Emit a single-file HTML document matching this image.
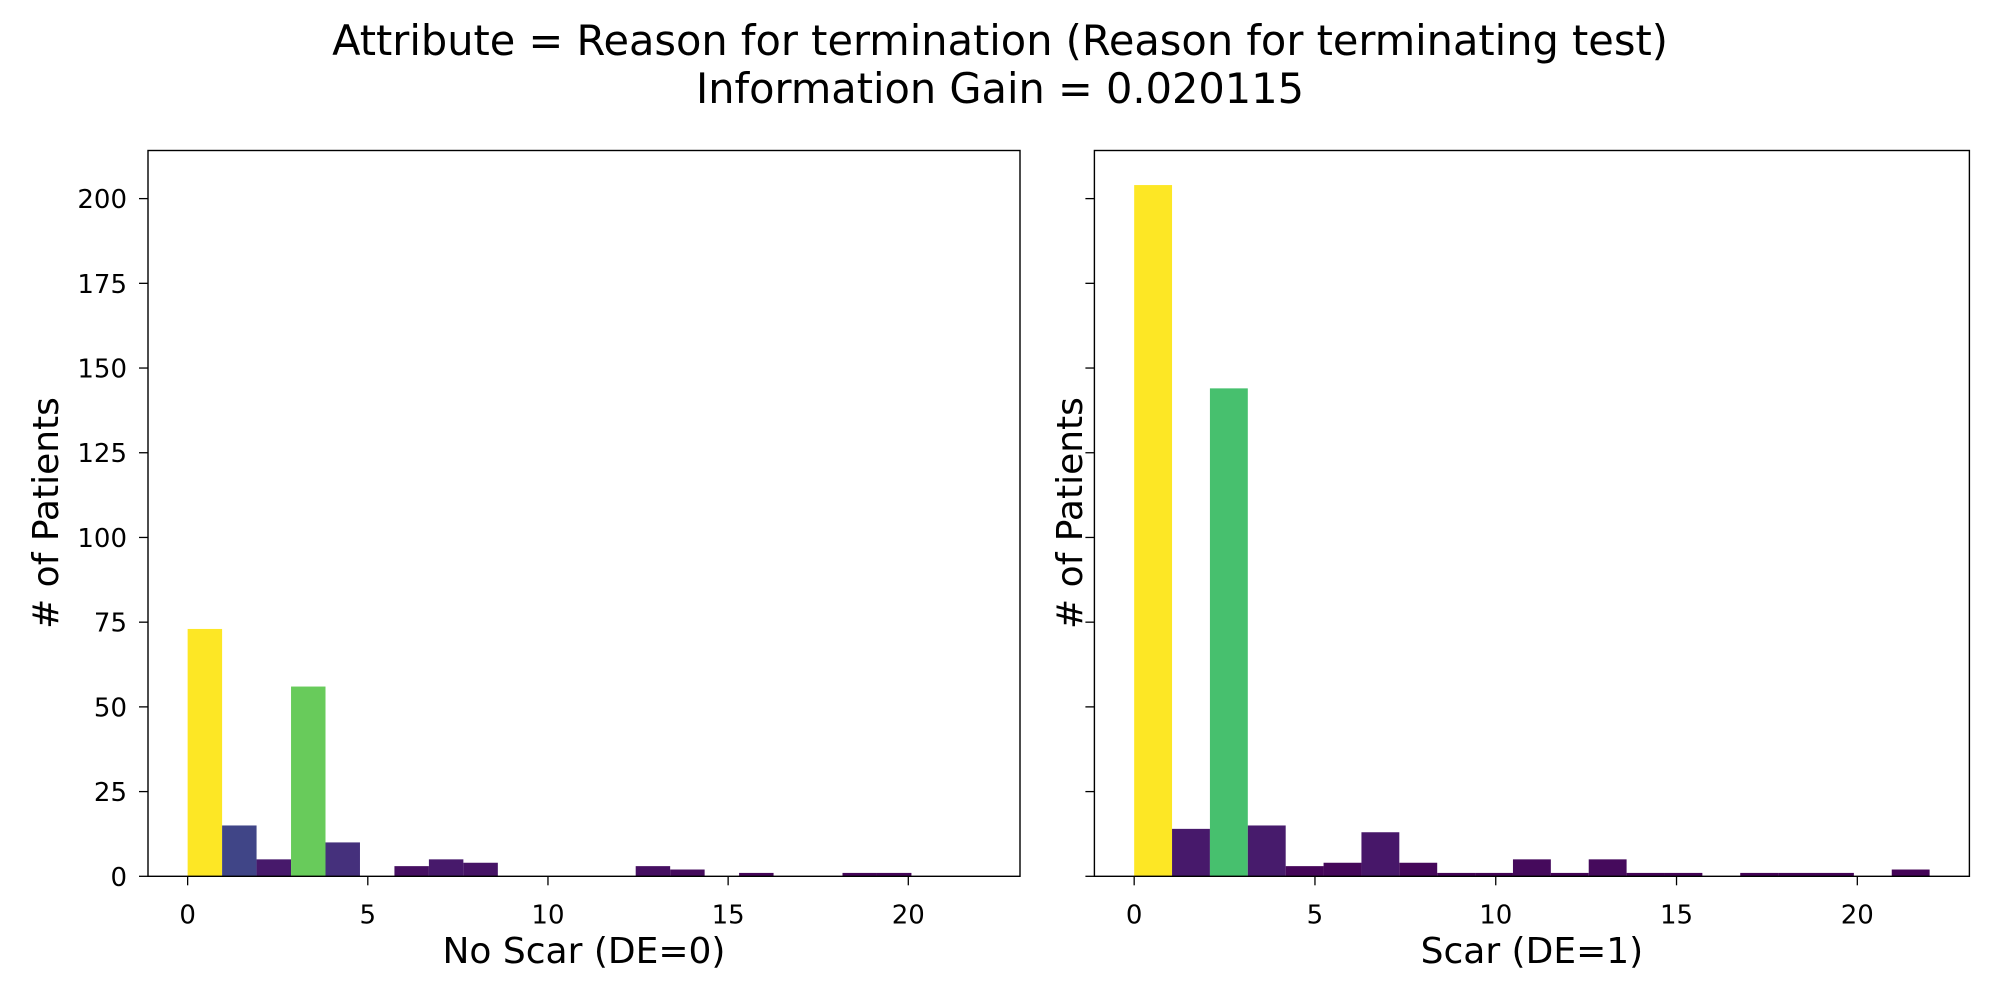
<!DOCTYPE html>
<html><head><meta charset="utf-8"><style>
html,body{margin:0;padding:0;background:#fff;}
svg{display:block;font-family:"DejaVu Sans","Liberation Sans",sans-serif;}
</style></head><body>
<svg id="chart" width="2000" height="1000" viewBox="0 0 2000 1000">
<text x="1000" y="55" text-anchor="middle" font-size="41.5">Attribute = Reason for termination (Reason for terminating test)</text>
<text x="1000" y="103" text-anchor="middle" font-size="41.5">Information Gain = 0.020115</text>
</svg>
<script>
const leftCounts = [73,15,5,56,10,0,3,5,4,0,0,0,0,3,2,0,1,0,0,1,1,0,0];
const rightCounts = [204,14,144,15,3,4,13,4,1,1,5,1,5,1,1,0,1,1,1,0,2];
const dataMin = 0, dataMax = 22;
const xTicks = [0,5,10,15,20];
const yTicks = [0,25,50,75,100,125,150,175,200];
const xLabels = ["No Scar (DE=0)","Scar (DE=1)"];

const NS="http://www.w3.org/2000/svg";
const svg=document.getElementById('chart');
const vir=["#440154","#482475","#414487","#355f8d","#2a788e","#21918c","#22a884","#44bf70","#7ad151","#bddf26","#fde725"];
function hex(c){return [1,3,5].map(i=>parseInt(c.substr(i,2),16));}
function viridis(t){t=Math.max(0,Math.min(1,t));const p=t*10,i=Math.min(9,Math.floor(p)),f=p-i;
 const a=hex(vir[i]),b=hex(vir[i+1]);return 'rgb('+a.map((v,k)=>Math.round(v+(b[k]-v)*f)).join(',')+')';}
function mk(tag,attrs,parent){const e=document.createElementNS(NS,tag);for(const k in attrs)e.setAttribute(k,attrs[k]);(parent||svg).appendChild(e);return e;}

const yMax=214.2, xLo=-1.1, xHi=23.1;
function panel(px0,px1,counts,label,showYLabels,idx){
 const top=150.5,bottom=876.3;
 const g=mk('g',{});
 
 
 const xs=v=>px0+(v-xLo)/(xHi-xLo)*(px1-px0);
 const ys=v=>bottom-v/yMax*(bottom-top);
 const n=counts.length, w=(dataMax-dataMin)/n, mx=Math.max(...counts);
 counts.forEach((c,i)=>{ if(c<=0) return;
  const r=mk('rect',{x:xs(dataMin+i*w),y:ys(c),width:xs(dataMin+(i+1)*w)-xs(dataMin+i*w),height:ys(0)-ys(c),fill:viridis(c/mx)},g);
  
  
 });
 const fr=mk('rect',{x:px0,y:top,width:px1-px0,height:bottom-top,fill:'none',stroke:'#000','stroke-width':1.4},g);
 
 
 xTicks.forEach(t=>{const x=xs(t);mk('line',{x1:x,x2:x,y1:bottom,y2:bottom+9,stroke:'#000','stroke-width':1.3},g);
  const tx=mk('text',{x:x,y:bottom+47,'text-anchor':'middle','font-size':26},g);tx.textContent=t;
  
  });
 yTicks.forEach(t=>{const y=ys(t);mk('line',{x1:px0-9,x2:px0,y1:y,y2:y,stroke:'#000','stroke-width':1.3},g);
  if(showYLabels){const tx=mk('text',{x:px0-21,y:y+9.5,'text-anchor':'end','font-size':26},g);tx.textContent=t;
  
  }});
 const xl=mk('text',{x:(px0+px1)/2,y:963,'text-anchor':'middle','font-size':36},g);xl.textContent=label;
 
 
 const lx=idx===0?58:1082;
 const yl=mk('text',{x:lx,y:513,'text-anchor':'middle','font-size':36,transform:'rotate(-90 '+lx+' 513)'},g);yl.textContent='# of Patients';
 
 
}
panel(148,1020,leftCounts,xLabels[0],true,0);
panel(1094.4,1969.4,rightCounts,xLabels[1],false,1);
</script>
</body></html>
